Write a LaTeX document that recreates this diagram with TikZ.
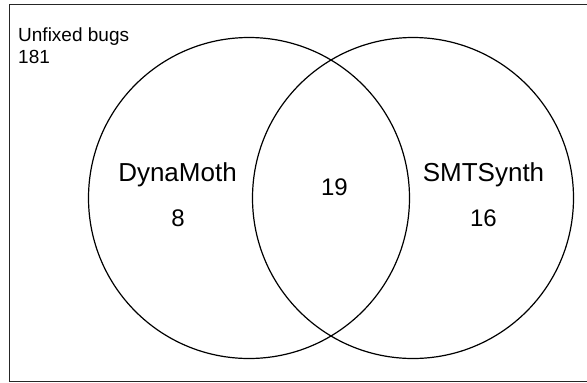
\documentclass[tikz,border=0pt]{standalone}
\usepackage{fontspec}
\setmainfont{Liberation Sans}
\begin{document}
\begin{tikzpicture}[x=1pt,y=-1pt,
  setcircle/.style={circle,draw=black,line width=1.2pt,minimum size=321pt,inner sep=0pt},
  biglabel/.style={anchor=base,inner sep=0pt,font=\fontsize{26}{30}\selectfont},
  numlabel/.style={anchor=base,inner sep=0pt,font=\fontsize{24}{30}\selectfont},
  smalllabel/.style={anchor=base west,inner sep=0pt,font=\fontsize{19}{22}\selectfont},
  frameline/.style={draw=black!85,line width=1.4pt}]
\useasboundingbox (0,0) rectangle (587,383);
\fill[white] (0,0) rectangle (587,383);
\coordinate (tr) at (600,4.7);
\coordinate (tl) at (9.3,4.7);
\coordinate (bl) at (9.3,381.5);
\coordinate (br) at (600,381.5);
\draw[frameline] (tr) -- (tl) -- (bl) -- (br);
\node[setcircle] (dyn) at (249,198) {};
\node[setcircle] (smt) at (413,198) {};
\node[smalllabel] (unf) at (18,41.7) {Unfixed bugs};
\node[smalllabel] (unfn) at (18,63.3) {181};
\node[biglabel] (dynl) at (177.5,181) {DynaMoth};
\node[numlabel] (dynn) at (178,226) {8};
\node[numlabel] (both) at (334.5,195) {19};
\node[biglabel] (smtl) at (483.5,181) {SMTSynth};
\node[numlabel] (smtn) at (483.5,226.5) {16};
\end{tikzpicture}
\end{document}
